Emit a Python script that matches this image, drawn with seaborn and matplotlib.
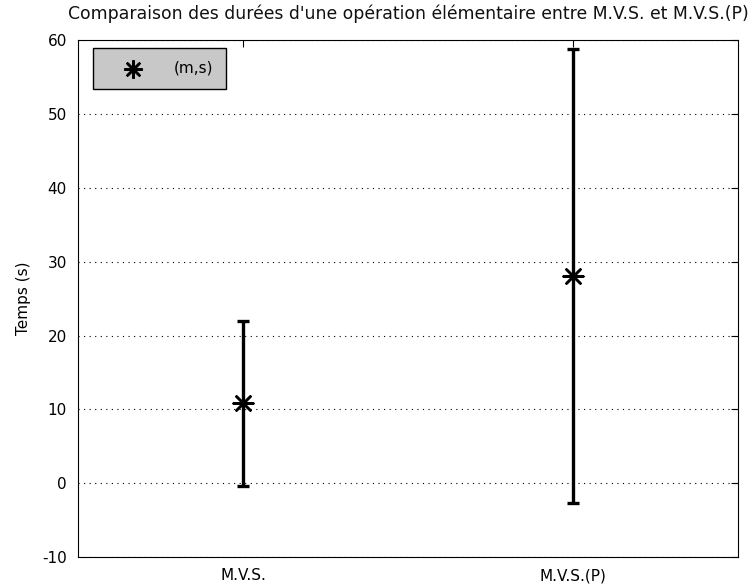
import numpy as np
import pandas as pd
import matplotlib
matplotlib.use("Agg")
import matplotlib.pyplot as plt
import seaborn as sns

# données
methodes = ["M.V.S.", "M.V.S.(P)"]
moyennes = [10.8, 28.1]
ecarts = [11.2, 30.75]
yticks = [-10, 0, 10, 20, 30, 40, 50, 60]

df = pd.DataFrame({"x": [1, 2], "m": moyennes, "s": ecarts})

sns.set_style("white")
plt.rcParams["font.family"] = ["DejaVu Sans"]
plt.rcParams["font.size"] = 11
plt.rcParams["axes.unicode_minus"] = False
plt.rcParams["text.color"] = "black"
plt.rcParams["axes.labelcolor"] = "black"

fig = plt.figure(figsize=(7.53, 5.88), dpi=100)
ax = fig.add_axes([0.1036, 0.0527, 0.8765, 0.879])

star = (8, 2, 0)
ax.errorbar(df["x"], df["m"], yerr=df["s"], fmt="none", ecolor="black",
            elinewidth=2.4, capsize=4, capthick=2.4, zorder=3)
sns.scatterplot(data=df, x="x", y="m", marker=star, s=200, color="black",
                linewidth=1.8, ax=ax, zorder=4, label="(m,s)")

ax.set_xlim(0.5, 2.5)
ax.set_ylim(-10, 60)
ax.set_xticks(df["x"])
ax.set_xticklabels(methodes)
ax.set_yticks(yticks)
ax.set_xlabel("")
ax.set_ylabel("Temps (s)", fontsize=11, labelpad=8)
ax.set_title("Comparaison des durées d'une opération élémentaire entre M.V.S. et M.V.S.(P)",
             fontsize=12.4, pad=15, color="#111111")

ax.yaxis.grid(True, linestyle=(0, (1, 4)), color="black", linewidth=0.8)
ax.xaxis.grid(False)
ax.tick_params(direction="in", top=True, right=True, length=5, width=0.8,
               colors="black", labelsize=11, pad=8)
for sp in ax.spines.values():
    sp.set_visible(True)
    sp.set_color("black")
    sp.set_linewidth(0.8)

leg = ax.legend(loc="upper left", frameon=True, fancybox=False,
                edgecolor="black", facecolor="#c8c8c8", framealpha=1,
                borderpad=0.85, handlelength=3.5, handletextpad=0.9,
                markerscale=0.85, fontsize=11,
                borderaxespad=0, bbox_to_anchor=(0.023, 0.985))
leg.get_frame().set_linewidth(1.0)

plt.savefig("out.png", dpi=100)
